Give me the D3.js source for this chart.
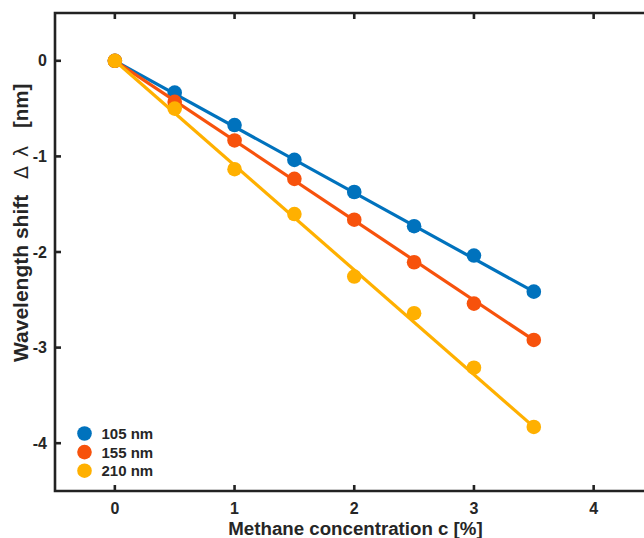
<!DOCTYPE html>
<html>
<head>
<meta charset="utf-8">
<script src="https://cdn.jsdelivr.net/npm/d3@7"></script>
<style>
  html, body { margin: 0; padding: 0; background: #fff; }
  svg { display: block; }
  text { font-family: "Liberation Sans", Arial, sans-serif; font-weight: bold; fill: #262626; }
</style>
</head>
<body>
<svg id="chart" width="644" height="538"></svg>
<script>
// Methane concentration (%)
const concentration = [0, 0.5, 1, 1.5, 2, 2.5, 3, 3.5];

// Measured wavelength shift (nm) for each film thickness
const shift105 = [0, -0.333, -0.672, -1.036, -1.372, -1.73, -2.037, -2.415];
const shift155 = [0, -0.43, -0.833, -1.235, -1.662, -2.107, -2.54, -2.92];
const shift210 = [0, -0.5, -1.134, -1.603, -2.257, -2.64, -3.21, -3.83];

// Linear-fit slopes (nm per %) through the origin
const fitSlopes = [-0.69, -0.835, -1.094];

const seriesNames = ["105 nm", "155 nm", "210 nm"];
const seriesColors = ["#0072BD", "#F7520C", "#FFB000"];

const xTicks = [0, 1, 2, 3, 4];
const yTicks = [0, -1, -2, -3, -4];

const svg = d3.select("#chart");
const plotLeft = 55, plotTop = 13, plotRight = 653.5, plotBottom = 491;

const x = d3.scaleLinear().domain([-0.5, 4.5]).range([plotLeft, plotRight]);
const y = d3.scaleLinear().domain([-4.5, 0.5]).range([plotBottom, plotTop]);

const ink = "#222222";
const tickLen = 6;

// Each series: straight fit line from the origin, then its measured points
const allSeries = [shift105, shift155, shift210];
const fitX = [0, 3.5];
const line = d3.line().x(d => x(d[0])).y(d => y(d[1]));
allSeries.forEach((vals, i) => {
  const g = svg.append("g");
  g.append("path")
    .attr("d", line(fitX.map(c => [c, c * fitSlopes[i]])))
    .attr("fill", "none")
    .attr("stroke", seriesColors[i])
    .attr("stroke-width", 3.2);
  g.selectAll("circle")
    .data(concentration.map((c, k) => [c, vals[k]]))
    .join("circle")
    .attr("cx", d => x(d[0]))
    .attr("cy", d => y(d[1]))
    .attr("r", 7.3)
    .attr("fill", seriesColors[i]);
});

// Axes box (left, bottom, top) with inward ticks
const axisG = svg.append("g").attr("stroke", ink).attr("stroke-width", 2.6).attr("fill", "none");
axisG.append("path").attr("d", `M${plotRight + 5},${plotTop}H${plotLeft}V${plotBottom}H${plotRight + 5}`);

xTicks.forEach(t => {
  axisG.append("line").attr("x1", x(t)).attr("x2", x(t)).attr("y1", plotBottom).attr("y2", plotBottom - tickLen);
  axisG.append("line").attr("x1", x(t)).attr("x2", x(t)).attr("y1", plotTop).attr("y2", plotTop + tickLen);
});
yTicks.forEach(t => {
  axisG.append("line").attr("x1", plotLeft).attr("x2", plotLeft + tickLen).attr("y1", y(t)).attr("y2", y(t));
});

// Tick labels
svg.append("g").selectAll("text").data(xTicks).join("text")
  .attr("x", d => x(d)).attr("y", 514)
  .attr("text-anchor", "middle").attr("font-size", 16)
  .text(d => d);

svg.append("g").selectAll("text").data(yTicks).join("text")
  .attr("x", 47).attr("y", d => y(d) + 5.5)
  .attr("text-anchor", "end").attr("font-size", 16)
  .text(d => d === 0 ? "0" : "-" + Math.abs(d));

// Axis titles
svg.append("text")
  .attr("x", 355.5).attr("y", 535)
  .attr("text-anchor", "middle").attr("font-size", 18.7)
  .text("Methane concentration c [%]");

// Y title is read bottom-to-top; the Greek symbols use a light math-style face
const yTitle = svg.append("text")
  .attr("transform", "translate(28,362) rotate(-90)")
  .attr("text-anchor", "start").attr("font-size", 21);
yTitle.append("tspan").attr("x", 0).text("Wavelength shift");
yTitle.append("tspan").attr("x", 183).attr("font-weight", "normal")
  .style("font-family", "'DejaVu Sans', sans-serif").attr("font-size", 19).text("\u0394");
yTitle.append("tspan").attr("x", 205).attr("font-weight", "normal")
  .style("font-family", "'DejaVu Sans', sans-serif").attr("font-size", 19).text("\u03bb");
yTitle.append("tspan").attr("x", 234).attr("font-size", 20.5).text("[nm]");

// Legend
const legend = svg.append("g");
seriesNames.forEach((name, i) => {
  const ly = 433.5 + i * 18.6;
  legend.append("circle").attr("cx", 84.5).attr("cy", ly).attr("r", 7.3).attr("fill", seriesColors[i]);
  legend.append("text").attr("x", 101.5).attr("y", ly + 5.5).attr("font-size", 15).text(name);
});
</script>
</body>
</html>
